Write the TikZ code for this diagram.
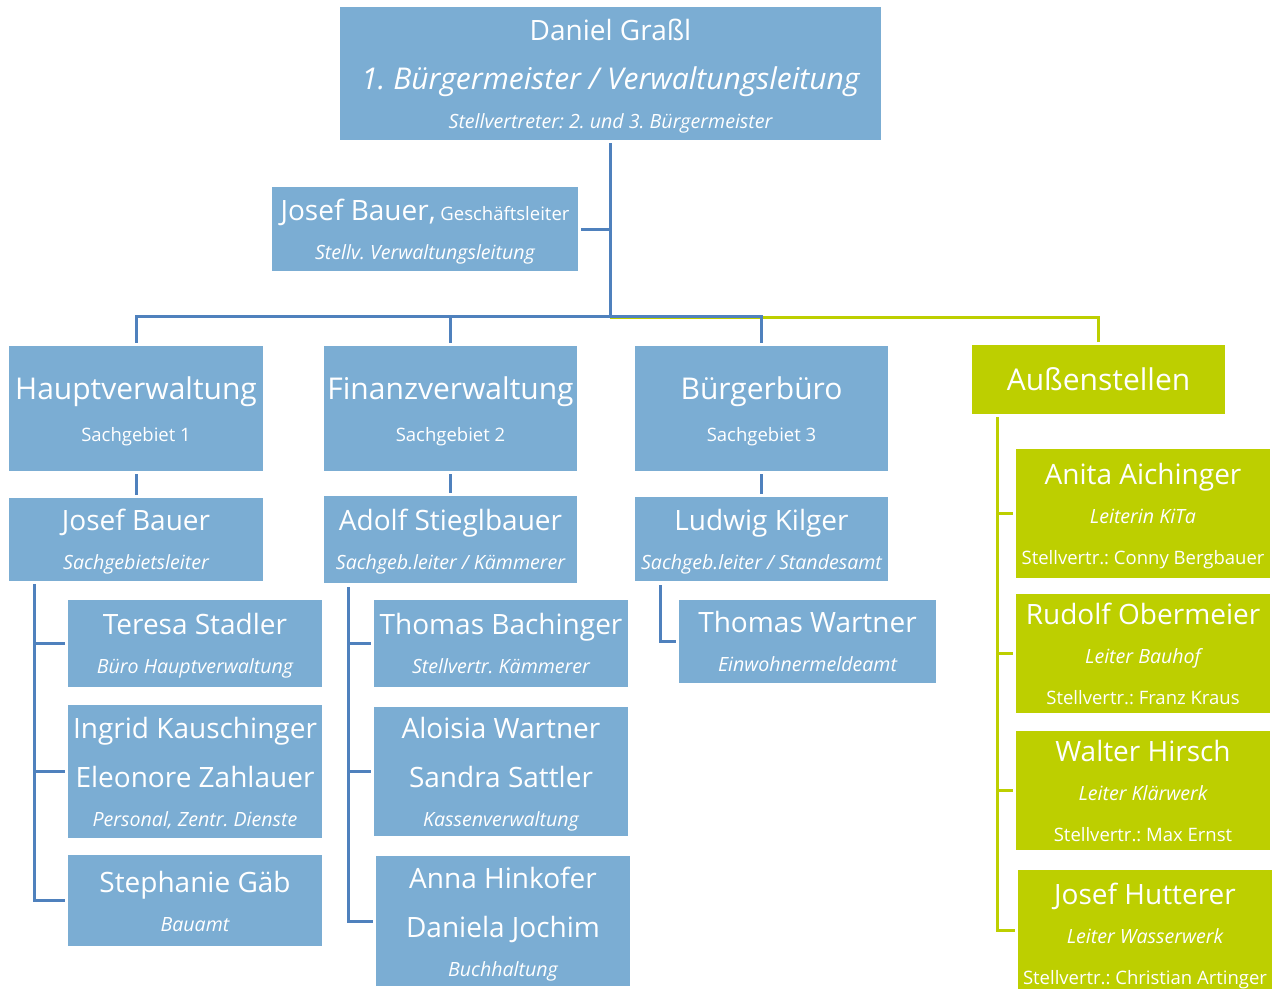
\documentclass[tikz,border=0pt]{standalone}
\usepackage{fontspec}
\setmainfont{Open Sans}
\frenchspacing
\definecolor{boxblue}{RGB}{123,173,211}
\definecolor{lineblue}{RGB}{79,129,189}
\definecolor{boxgreen}{RGB}{189,207,0}
\tikzset{
  bbox/.style={fill=boxblue, draw=none, inner sep=0pt, rectangle},
  gbox/.style={fill=boxgreen, draw=none, inner sep=0pt, rectangle},
  txt/.style={text=white, inner sep=0pt, anchor=base},
  bigt/.style={txt, font=\fontsize{30}{36}\selectfont},
  namet/.style={txt, font=\fontsize{28}{34}\selectfont},
  smallt/.style={txt, font=\fontsize{18.5}{22}\selectfont},
  smalli/.style={txt, font=\fontsize{19.6}{23}\selectfont\itshape},
  bline/.style={draw=lineblue, line width=3pt},
  gline/.style={draw=boxgreen, line width=3pt},
}
\begin{document}
\begin{tikzpicture}[x=1pt,y=-1pt]
\useasboundingbox (0,0) rectangle (1279,988);
% boxes
\node[bbox, minimum width=541pt, minimum height=133pt] (top) at (610.5,73.5) {};
\node[bbox, minimum width=306pt, minimum height=84pt] (gl) at (425,229) {};
\node[bbox, minimum width=254pt, minimum height=125pt] (hv) at (136,408.5) {};
\node[bbox, minimum width=253pt, minimum height=125pt] (fv) at (450.5,408.5) {};
\node[bbox, minimum width=253pt, minimum height=125pt] (bb) at (761.5,408.5) {};
\node[gbox, minimum width=253pt, minimum height=69pt] (as) at (1098.5,379.5) {};
\node[bbox, minimum width=254pt, minimum height=83pt] (jb) at (136,539.5) {};
\node[bbox, minimum width=253pt, minimum height=87pt] (ast) at (450.5,539.5) {};
\node[bbox, minimum width=253pt, minimum height=84pt] (lk) at (761.5,539) {};
\node[bbox, minimum width=254pt, minimum height=87pt] (ts) at (195,643.5) {};
\node[bbox, minimum width=254pt, minimum height=133pt] (ik) at (195,771.5) {};
\node[bbox, minimum width=254pt, minimum height=91pt] (sg) at (195,900.5) {};
\node[bbox, minimum width=254pt, minimum height=87pt] (tb) at (501,643.5) {};
\node[bbox, minimum width=254pt, minimum height=129pt] (aw) at (501,771.5) {};
\node[bbox, minimum width=254pt, minimum height=130pt] (ah) at (503,921) {};
\node[bbox, minimum width=257pt, minimum height=83pt] (tw) at (807.5,641.5) {};
\node[gbox, minimum width=254pt, minimum height=129pt] (aa) at (1143,513.5) {};
\node[gbox, minimum width=254pt, minimum height=119pt] (ro) at (1143,653.5) {};
\node[gbox, minimum width=254pt, minimum height=119pt] (wh) at (1143,790.5) {};
\node[gbox, minimum width=254pt, minimum height=120pt] (jh) at (1145,930) {};
% texts
\node[namet] (top1) at (610.5,40) {Daniel Graßl};
\node[bigt, font=\fontsize{30}{36}\selectfont\itshape] (top2) at (610.5,89.5) {1. Bürgermeister / Verwaltungsleitung};
\node[smalli] (top3) at (610.5,128.6) {Stellvertreter: 2. und 3. Bürgermeister};
\node[namet] (gl1) at (425,220) {Josef Bauer,\fontsize{18.5}{22}\selectfont{} Geschäftsleiter};
\node[smalli] (gl2) at (425,259.6) {Stellv. Verwaltungsleitung};
\node[bigt] (hv1) at (136,399.7) {Hauptverwaltung};
\node[smallt] (hv2) at (136,441.6) {Sachgebiet 1};
\node[bigt] (fv1) at (450.5,399.7) {Finanzverwaltung};
\node[smallt] (fv2) at (450.5,441.6) {Sachgebiet 2};
\node[bigt] (bb1) at (761.5,399.7) {Bürgerbüro};
\node[smallt] (bb2) at (761.5,441.6) {Sachgebiet 3};
\node[bigt] (as1) at (1098.5,390.7) {Außenstellen};
\node[namet] (jb1) at (136,530) {Josef Bauer};
\node[smalli] (jb2) at (136,569.6) {Sachgebietsleiter};
\node[namet] (ast1) at (450.5,530) {Adolf Stieglbauer};
\node[smalli] (ast2) at (450.5,569.6) {Sachgeb.leiter / Kämmerer};
\node[namet] (lk1) at (761.5,530) {Ludwig Kilger};
\node[smalli] (lk2) at (761.5,569.6) {Sachgeb.leiter / Standesamt};
\node[namet] (ts1) at (195,634) {Teresa Stadler};
\node[smalli] (ts2) at (195,673.6) {Büro Hauptverwaltung};
\node[namet] (ik1) at (195,738) {Ingrid Kauschinger};
\node[namet] (ik2) at (195,787) {Eleonore Zahlauer};
\node[smalli] (ik3) at (195,826.6) {Personal, Zentr. Dienste};
\node[namet] (sg1) at (195,892) {Stephanie Gäb};
\node[smalli] (sg2) at (195,931.6) {Bauamt};
\node[namet] (tb1) at (501,634) {Thomas Bachinger};
\node[smalli] (tb2) at (501,673.6) {Stellvertr. Kämmerer};
\node[namet] (aw1) at (501,738) {Aloisia Wartner};
\node[namet] (aw2) at (501,787) {Sandra Sattler};
\node[smalli] (aw3) at (501,826.6) {Kassenverwaltung};
\node[namet] (ah1) at (503,888) {Anna Hinkofer};
\node[namet] (ah2) at (503,937) {Daniela Jochim};
\node[smalli] (ah3) at (503,976.6) {Buchhaltung};
\node[namet] (tw1) at (807.5,632) {Thomas Wartner};
\node[smalli] (tw2) at (807.5,671.6) {Einwohnermeldeamt};
\node[namet] (aa1) at (1143,484) {Anita Aichinger};
\node[smalli] (aa2) at (1143,523.6) {Leiterin KiTa};
\node[smallt] (aa3) at (1143,564.6) {Stellvertr.: Conny Bergbauer};
\node[namet] (ro1) at (1143,624) {Rudolf Obermeier};
\node[smalli] (ro2) at (1143,663.6) {Leiter Bauhof};
\node[smallt] (ro3) at (1143,704.6) {Stellvertr.: Franz Kraus};
\node[namet] (wh1) at (1143,761) {Walter Hirsch};
\node[smalli] (wh2) at (1143,800.6) {Leiter Klärwerk};
\node[smallt] (wh3) at (1143,841.6) {Stellvertr.: Max Ernst};
\node[namet] (jh1) at (1145,904) {Josef Hutterer};
\node[smalli] (jh2) at (1145,943.6) {Leiter Wasserwerk};
\node[smallt] (jh3) at (1145,984.6) {Stellvertr.: Christian Artinger};
% coordinates
\coordinate (bus) at (610,316);
\coordinate (gbus) at (610,317);
\coordinate (jbx) at (34,584);
\coordinate (astx) at (348,587);
\coordinate (lkx) at (660,585);
\coordinate (asx) at (997,417);
% connectors green
\draw[gline, shorten >=3pt] (gbus) -| (as.north);
\draw[gline, shorten >=3pt] (asx) |- (aa.west);
\draw[gline, shorten >=3pt] (asx) |- (ro.west);
\draw[gline, shorten >=3pt] (asx) |- (wh.west);
\draw[gline, shorten >=3pt] (asx) |- (jh.west);
% connectors blue
\draw[bline, shorten <=3pt] (top.south -| bus) -- (bus);
\draw[bline, shorten <=3pt] (gl.east) -- (gl.east -| bus);
\draw[bline, shorten >=3pt] (bus) -| (hv.north);
\draw[bline, shorten >=3pt] (bus) -| (fv.north);
\draw[bline, shorten >=3pt] (bus) -| (bb.north);
\draw[bline, shorten <=3pt, shorten >=3pt] (hv.south) -- (jb.north);
\draw[bline, shorten <=3pt, shorten >=3pt] (fv.south) -- (ast.north);
\draw[bline, shorten <=3pt, shorten >=3pt] (bb.south) -- (lk.north);
\draw[bline, shorten >=3pt] (jbx) |- (ts.west);
\draw[bline, shorten >=3pt] (jbx) |- (ik.west);
\draw[bline, shorten >=3pt] (jbx) |- (sg.west);
\draw[bline, shorten >=3pt] (astx) |- (tb.west);
\draw[bline, shorten >=3pt] (astx) |- (aw.west);
\draw[bline, shorten >=3pt] (astx) |- (ah.west);
\draw[bline, shorten >=3pt] (lkx) |- (tw.west);
\end{tikzpicture}
\end{document}
